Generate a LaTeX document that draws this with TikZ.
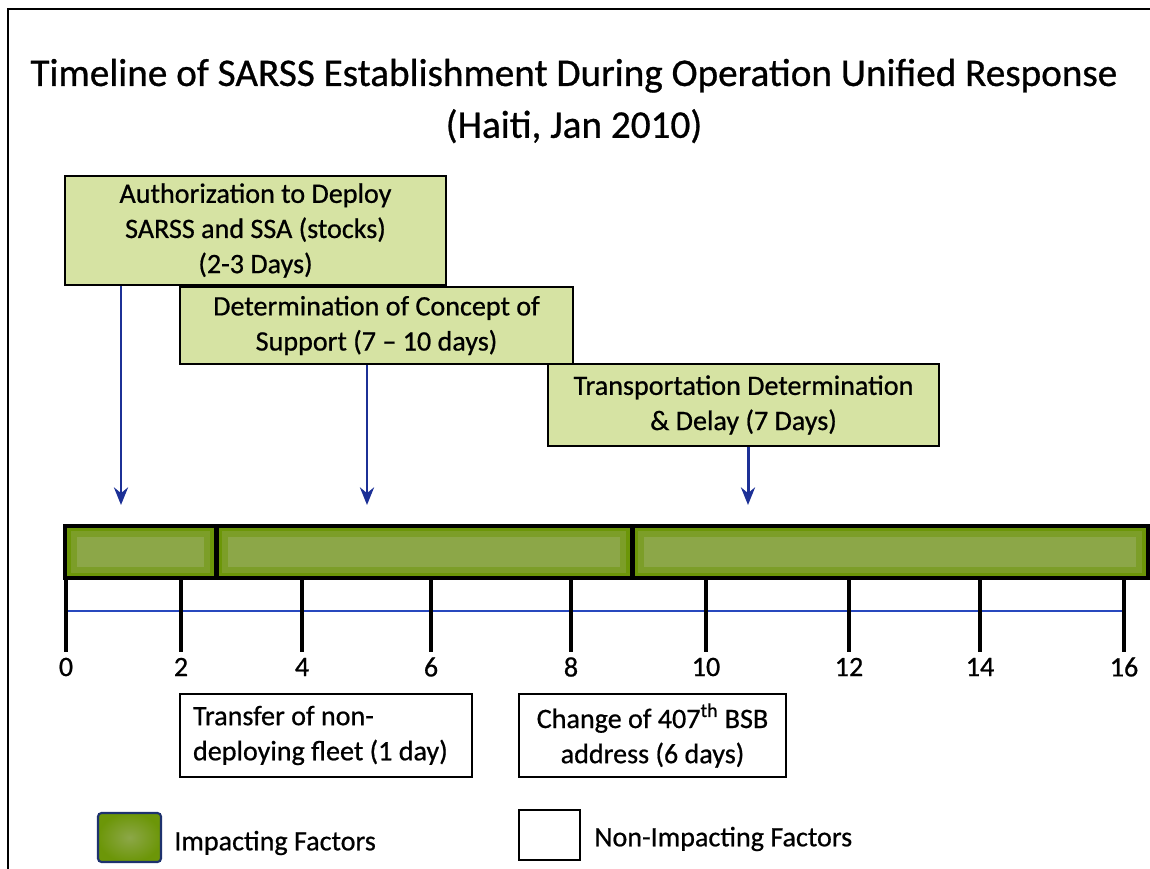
\documentclass[tikz,border=0pt]{standalone}
\usepackage{fontspec}
\setmainfont{Carlito}[FakeBold=0.7]
\usetikzlibrary{positioning,calc,arrows.meta}
\definecolor{sarssboxgreen}{RGB}{214,227,163}
\definecolor{sarssbardark}{RGB}{108,150,8}
\definecolor{sarssbarmid}{RGB}{124,158,40}
\definecolor{sarssbarlight}{RGB}{140,167,72}
\definecolor{sarssarrowblue}{RGB}{28,48,150}
\definecolor{sarsslineblue}{RGB}{40,72,190}
\definecolor{sarsslegendedge}{RGB}{30,50,110}
\tikzset{
    sarss text/.style={font=\fontsize{16pt}{20pt}\selectfont, text=black},
    sarss impact box/.style={
        rectangle,
        sarss text,
        draw=black,
        line width=1.6pt,
        fill=sarssboxgreen,
        align=center,
        inner sep=0pt,
    },
    sarss plain box/.style={
        rectangle,
        sarss text,
        draw=black,
        line width=1.6pt,
        fill=white,
        inner sep=0pt,
    },
    sarss bar/.style={
        rectangle,
        draw=black,
        line width=2.8pt,
        fill=sarssbardark,
        minimum height=1.04cm,
        inner sep=0pt,
        path picture={
            \fill[sarssbarmid] ($(path picture bounding box.north west)+(3.5pt,-3pt)$) rectangle ($(path picture bounding box.south east)+(-3.5pt,3pt)$);
            \fill[sarssbarlight] ($(path picture bounding box.north west)+(7pt,-6pt)$) rectangle ($(path picture bounding box.south east)+(-7pt,6pt)$);}
    },
    sarss arrow/.style={-{Stealth[length=10pt,width=8pt]}, draw=sarssarrowblue, line width=1.7pt},
    sarss tick/.style={draw=black, line width=2.2pt},
    tick label/.style={sarss text, inner sep=0pt},
    key label/.style={sarss text, anchor=west, inner sep=0pt},
}

\begin{document}
\begin{tikzpicture}[x=0.02cm,y=-0.02cm]
    \useasboundingbox (0,0) rectangle (1150,869);
    % frame (only top and left edges show)
    \draw[line width=1.1pt] (8,869) -- (8,9) -- (1150,9);

    \node[font=\fontsize{22.3pt}{29.5pt}\selectfont, align=center] (title) at (574,101)
        {Timeline of SARSS Establishment During Operation Unified Response\\(Haiti, Jan 2010)};

    %Impacting factors, stacked like steps
    \node[sarss impact box, minimum width=7.62cm, minimum height=2.18cm] (auth) at (255.5,230.5)
        {Authorization to Deploy\\SARSS and SSA (stocks)\\(2-3 Days)};
    \node[sarss impact box, minimum width=7.86cm, minimum height=1.54cm] (concept) at (376.5,325.5)
        {Determination of Concept of\\Support (7 -- 10 days)};
    \node[sarss impact box, minimum width=7.82cm, minimum height=1.64cm] (transport) at (743.5,405)
        {Transportation Determination\\\& Delay (7 Days)};

    %the bar
    \node[sarss bar, minimum width=3.02cm] (seg1) at (140.5,552) {};
    \node[sarss bar, minimum width=8.32cm] (seg2) at (424,552) {};
    \node[sarss bar, minimum width=10.32cm] (seg3) at (890,552) {};

    \coordinate (auth-end) at (121,505);
    \coordinate (concept-end) at (367,505);
    \coordinate (transport-end) at (748,505);
    \draw[sarss arrow] (auth.south -| auth-end) -- (auth-end);
    \draw[sarss arrow] (concept.south -| concept-end) -- (concept-end);
    \draw[sarss arrow] (transport.south -| transport-end) -- (transport-end);

    % day scale
    \draw[sarsslineblue, line width=1.4pt] (66,611) -- (1124,611);
    \foreach \xx/\lab in {66/0,181/2,302/4,431/6,571/8,706/10,849/12,980/14,1124/16} {
        \draw[sarss tick] (\xx,578) -- (\xx,652);
        \node[tick label] (tick-\lab) at (\xx,667) {\lab};
    }

    %Non-impacting factors
    \node[sarss plain box, minimum width=5.84cm, minimum height=1.66cm, text width=5.32cm, inner xsep=0.26cm, align=flush left] (fleet) at (326,735.5)
        {Transfer of non-\\deploying fleet (1 day)};
    \node[sarss plain box, minimum width=5.34cm, minimum height=1.66cm, align=center] (address) at (652.5,735.5)
        {Change of 407\textsuperscript{th} BSB\\address (6 days)};

    % legend
    \node[rectangle, rounded corners=2pt, draw=sarsslegendedge, line width=1.2pt, inner color=sarssbarlight, outer color=sarssbardark, minimum width=1.26cm, minimum height=0.98cm] (key-impact) at (129.5,837.5) {};
    \node[key label] (key-impact-text) at (174,843) {Impacting Factors};
    \node[sarss plain box, line width=1.3pt, minimum width=1.22cm, minimum height=1cm] (key-plain) at (549.5,835) {};
    \node[key label] (key-plain-text) at (594,839) {Non-Impacting Factors};
\end{tikzpicture}
\end{document}
